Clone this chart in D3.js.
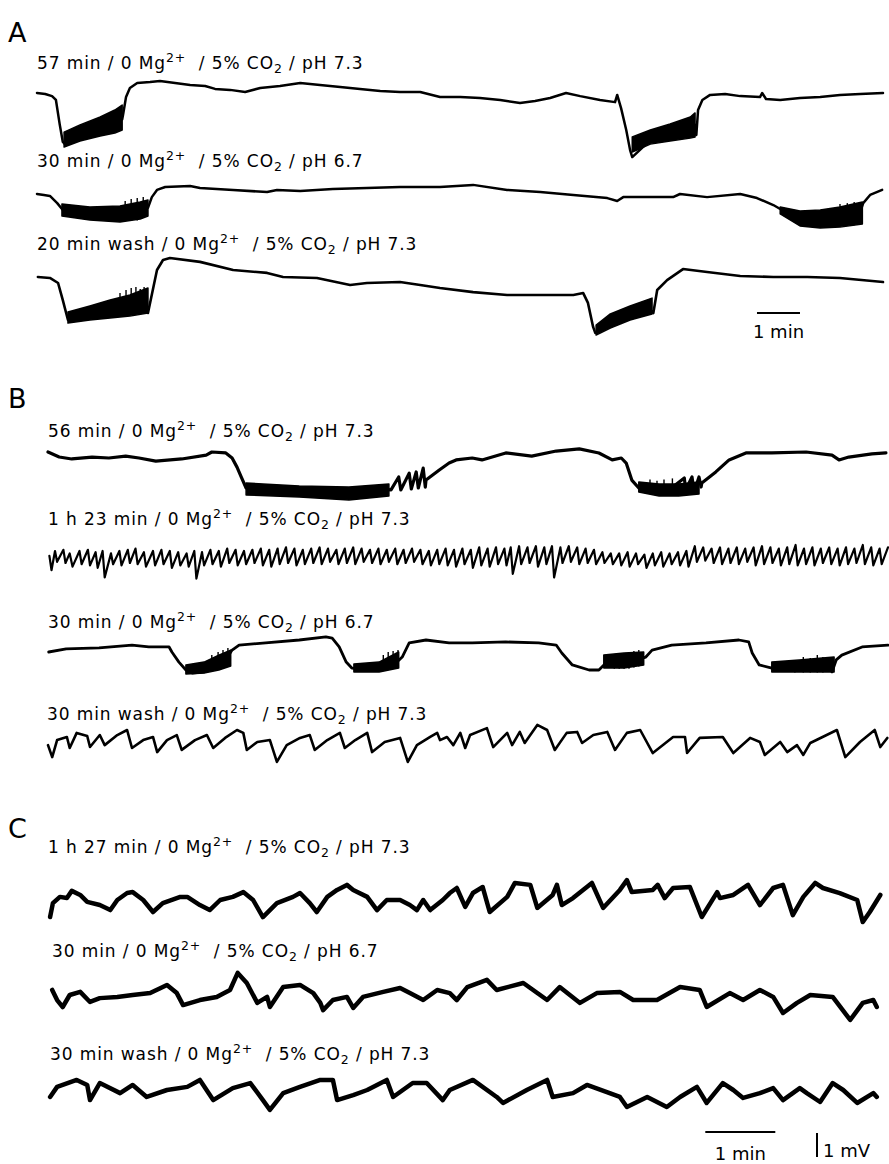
<!DOCTYPE html>
<meta charset="utf-8">
<style>
    body { margin: 0; background: #fff; }
    text { font-family: "DejaVu Sans", sans-serif; fill: #000; white-space: pre; }
    .trace { fill: none; stroke: #000; stroke-linejoin: round; stroke-linecap: round; }
    .burst { fill: #000; stroke: #000; stroke-width: 1.5px; stroke-linejoin: round; }
    .spike { stroke: #000; stroke-width: 1.4px; }
    .bar { stroke: #000; stroke-width: 2px; }
</style>

<svg width="889" height="1164"></svg>

<script src="https://d3js.org/d3.v7.min.js"></script>
<script>
    // time in min, potential in mV (relative to each trace's start)
    var panels = ["A", "B", "C"];
    var timesA = ["57 min", "30 min", "20 min wash"],
        phA = ["7.3", "6.7", "7.3"];
    var timesB = ["56 min", "1 h 23 min", "30 min", "30 min wash"],
        phB = ["7.3", "7.3", "6.7", "7.3"];
    var timesC = ["1 h 27 min", "30 min", "30 min wash"],
        phC = ["7.3", "6.7", "7.3"];

    var a1 = [[0,0],[0.19,-0.04],[0.35,-0.13],[0.44,-0.29],[0.53,-1.33],[0.6,-2.04],[0.67,-2.17],[1.23,-1.6],
        [1.7,-1.3],[1.98,-1.1],[2.0,-0.92],[2.07,-0.17],[2.16,0.21],[2.33,0.42],[2.63,0.46],[2.86,0.5],[3.21,0.42],
        [3.56,0.33],[3.91,0.29],[4.14,0.17],[4.49,0.13],[4.84,0.04],[5.19,0.21],[5.65,0.29],[6.12,0.42],[6.58,0.33],
        [7.05,0.25],[7.51,0.17],[7.98,0.08],[8.44,0.04],[8.91,0.04],[9.37,-0.17],[9.84,-0.17],[10.3,-0.21],
        [10.77,-0.29],[11.23,-0.42],[11.58,-0.33],[11.93,-0.21],[12.3,0],[12.63,-0.13],[13.09,-0.29],[13.44,-0.38],
        [13.49,-0.08],[13.58,-0.63],[13.7,-1.54],[13.79,-2.38],[13.84,-2.67],[14.26,-1.96],[14.72,-1.67],
        [15.19,-1.42],[15.3,-1.33],[15.33,-1.75],[15.37,-0.71],[15.47,-0.29],[15.65,-0.08],[16.0,-0.04],
        [16.35,-0.13],[16.81,-0.17],[16.86,0],[16.95,-0.25],[17.28,-0.29],[17.74,-0.21],[18.21,-0.17],
        [18.67,-0.08],[19.14,-0.04],[19.67,0]];
    var a1Bursts = [
        [[0.63,-1.63,-2.25],[1.0,-1.33,-2.0],[1.47,-1.0,-1.79],[1.81,-0.71,-1.67],[1.98,-0.5,-1.54]],
        [[13.84,-1.83,-2.46],[14.26,-1.54,-2.13],[14.72,-1.29,-2.0],[15.19,-1.0,-1.88],[15.3,-0.83,-1.83]]
    ];
    var a1Spikes = [];

    var a2 = [[0,0],[0.16,-0.04],[0.3,-0.08],[0.47,-0.38],[0.6,-0.67],[1.0,-0.75],[1.7,-0.79],[2.4,-0.67],
        [2.58,-0.58],[2.67,-0.13],[2.79,0.17],[2.98,0.29],[3.56,0.33],[3.79,0.25],[4.56,0.17],[5.35,0.08],
        [5.58,0.17],[6.12,0.13],[6.88,0.21],[7.67,0.25],[8.44,0.29],[9.37,0.29],[10.14,0.38],[10.93,0.17],
        [11.7,0.08],[12.47,-0.04],[13.26,-0.17],[13.49,-0.29],[13.63,-0.13],[14.79,-0.13],[14.95,0],[15.58,-0.13],
        [16.35,0],[16.74,-0.17],[17.12,-0.46],[17.44,-0.79],[17.74,-0.96],[18.28,-1.0],[18.67,-0.92],
        [19.14,-0.75],[19.21,-0.38],[19.37,-0.04],[19.65,0.17]];
    var a2Bursts = [
        [[0.58,-0.42,-0.92],[1.23,-0.54,-1.08],[1.93,-0.5,-1.17],[2.4,-0.33,-1.04],[2.58,-0.25,-0.92]],
        [[17.28,-0.54,-0.83],[17.74,-0.71,-1.33],[18.21,-0.67,-1.42],[18.67,-0.54,-1.38],[19.19,-0.33,-1.25]]
    ];
    var a2Spikes = [[2.05,-1.1,-0.29],[2.19,-1.1,-0.21],[2.33,-1.1,-0.17],[2.47,-1.0,-0.13],[2.56,-0.9,-0.25],
        [18.67,-1.3,-0.42],[18.84,-1.3,-0.38],[19.0,-1.3,-0.33],[19.14,-1.2,-0.38]];

    var a3 = [[0.02,0],[0.3,-0.04],[0.49,-0.25],[0.6,-0.96],[0.72,-1.79],[1.23,-1.5],[1.93,-1.29],[2.51,-1.04],
        [2.58,-1.5],[2.79,0.29],[2.93,0.71],[3.09,0.79],[3.79,0.63],[4.56,0.29],[5.35,0.17],[5.72,0],[6.51,-0.04],
        [7.28,-0.33],[7.67,-0.25],[8.44,-0.21],[8.91,-0.33],[9.37,-0.46],[10.14,-0.63],[10.93,-0.75],[11.7,-0.75],
        [12.47,-0.75],[12.7,-0.67],[12.81,-1.08],[12.93,-2.08],[12.98,-2.33],[13.56,-1.88],[14.26,-1.38],
        [14.33,-1.5],[14.42,-0.54],[14.65,-0.13],[15.02,0.33],[15.58,0.21],[16.35,0.04],[17.12,0],[17.91,0],
        [18.67,-0.04],[19.67,-0.21]];
    var a3Bursts = [
        [[0.72,-1.46,-1.92],[1.23,-1.21,-1.79],[1.7,-0.96,-1.71],[2.16,-0.75,-1.63],[2.58,-0.46,-1.5]],
        [[13.0,-2.0,-2.42],[13.33,-1.54,-2.13],[13.79,-1.21,-1.79],[14.3,-0.88,-1.54]]
    ];
    var a3Spikes = [[1.93,-1.5,-0.67],[2.07,-1.5,-0.54],[2.19,-1.5,-0.46],[2.3,-1.5,-0.42],[2.4,-1.5,-0.5],
        [2.49,-1.5,-0.42],[2.56,-1.5,-0.63]];

    var b1 = [[0,0],[0.16,-0.21],[0.34,-0.29],[0.63,-0.21],[0.87,-0.25],[1.11,-0.17],[1.3,-0.25],[1.54,-0.38],
        [1.91,-0.29],[2.26,-0.13],[2.34,0],[2.54,-0.04],[2.63,-0.25],[2.7,-0.63],[2.76,-1.04],[2.83,-1.5],
        [3.16,-1.67],[3.59,-1.58],[4.01,-1.75],[4.44,-1.71],[4.73,-1.54],[4.9,-1.58],[5.01,-1.04],[5.04,-1.58],
        [5.16,-0.88],[5.19,-1.54],[5.26,-0.83],[5.29,-1.5],[5.36,-0.67],[5.39,-1.46],[5.4,-1.17],[5.59,-0.75],
        [5.73,-0.46],[5.83,-0.33],[6.06,-0.25],[6.2,-0.33],[6.54,-0.04],[6.91,-0.17],[7.26,0.04],[7.59,0.13],
        [7.87,-0.04],[8.06,-0.33],[8.19,-0.25],[8.26,-0.46],[8.34,-1.17],[8.44,-1.5],[8.87,-1.58],[9.09,-1.08],
        [9.11,-1.58],[9.2,-1.04],[9.23,-1.67],[9.3,-1.04],[9.33,-1.46],[9.34,-1.29],[9.54,-0.83],[9.73,-0.33],
        [9.97,-0.04],[10.34,-0.04],[10.83,0],[11.2,-0.13],[11.3,-0.33],[11.44,-0.21],[11.77,-0.08],[11.97,-0.04]];
    var b1Bursts = [
        [[2.83,-1.29,-1.79],[3.59,-1.42,-1.88],[4.3,-1.46,-2.0],[4.87,-1.33,-1.83]],
        [[8.44,-1.25,-1.67],[8.73,-1.33,-1.83],[9.01,-1.33,-1.83],[9.3,-1.25,-1.75]]
    ];
    var b1Spikes = [[8.6,-1.7,-1.15],[8.7,-1.8,-1.2],[8.8,-1.8,-1.15],[8.92,-1.8,-1.1]];

    var b2 = [[0.02,0.05],[0.05,-0.55],[0.1,0.25],[0.13,-0.2],[0.22,0.3],[0.25,-0.25],[0.31,0.15],[0.35,-0.4],
        [0.45,0.25],[0.48,-0.3],[0.57,0.3],[0.6,-0.35],[0.68,0.2],[0.71,-0.45],[0.78,0.25],[0.81,-0.85],
        [0.9,0.15],[0.93,-0.3],[1.02,0.25],[1.05,-0.35],[1.14,0.3],[1.17,-0.25],[1.25,0.35],[1.28,-0.3],
        [1.37,0.2],[1.4,-0.4],[1.5,0.25],[1.53,-0.35],[1.62,0.3],[1.65,-0.3],[1.74,0.25],[1.77,-0.45],
        [1.86,0.2],[1.89,-0.35],[1.98,0.15],[2.01,-0.4],[2.09,0.25],[2.12,-0.9],[2.2,0.2],[2.23,-0.35],
        [2.32,0.3],[2.35,-0.3],[2.44,0.25],[2.47,-0.4],[2.56,0.35],[2.59,-0.25],[2.68,0.3],[2.71,-0.35],
        [2.8,0.25],[2.83,-0.3],[2.92,0.3],[2.95,-0.25],[3.04,0.35],[3.07,-0.35],[3.16,0.3],[3.19,-0.4],
        [3.28,0.35],[3.31,-0.3],[3.4,0.4],[3.43,-0.25],[3.52,0.35],[3.55,-0.35],[3.64,0.3],[3.67,-0.3],
        [3.76,0.35],[3.79,-0.25],[3.88,0.4],[3.91,-0.3],[4.0,0.35],[4.03,-0.2],[4.12,0.3],[4.15,-0.3],
        [4.24,0.35],[4.27,-0.25],[4.36,0.4],[4.39,-0.3],[4.48,0.35],[4.51,-0.2],[4.6,0.3],[4.63,-0.25],
        [4.72,0.35],[4.75,-0.3],[4.84,0.3],[4.87,-0.2],[4.96,0.35],[4.99,-0.3],[5.08,0.3],[5.11,-0.25],
        [5.2,0.35],[5.23,-0.2],[5.32,0.3],[5.35,-0.3],[5.44,0.25],[5.47,-0.35],[5.56,0.3],[5.59,-0.3],
        [5.68,0.35],[5.71,-0.35],[5.8,0.3],[5.83,-0.4],[5.92,0.35],[5.95,-0.3],[6.04,0.3],[6.07,-0.45],
        [6.16,0.4],[6.19,-0.35],[6.28,0.35],[6.31,-0.4],[6.4,0.4],[6.43,-0.3],[6.52,0.35],[6.55,-0.35],
        [6.61,0.4],[6.64,-0.7],[6.73,0.45],[6.76,-0.3],[6.85,0.4],[6.88,-0.25],[6.97,0.45],[7.0,-0.4],
        [7.09,0.4],[7.12,-0.3],[7.2,0.45],[7.23,-0.85],[7.32,0.4],[7.35,-0.25],[7.44,0.45],[7.47,-0.2],
        [7.56,0.4],[7.59,-0.3],[7.68,0.35],[7.71,-0.25],[7.8,0.3],[7.83,-0.3],[7.92,0.2],[7.95,-0.25],
        [8.04,0.15],[8.07,-0.3],[8.16,0.15],[8.19,-0.35],[8.28,0.2],[8.31,-0.4],[8.4,0.15],[8.43,-0.3],
        [8.52,0.1],[8.55,-0.45],[8.64,0.15],[8.67,-0.35],[8.76,0.2],[8.79,-0.4],[8.88,0.15],[8.91,-0.3],
        [9.0,0.2],[9.03,-0.35],[9.12,0.25],[9.15,-0.4],[9.24,0.45],[9.27,-0.2],[9.36,0.4],[9.39,-0.15],
        [9.48,0.35],[9.51,-0.25],[9.6,0.4],[9.63,-0.3],[9.72,0.35],[9.75,-0.25],[9.84,0.4],[9.87,-0.3],
        [9.96,0.35],[9.99,-0.2],[10.08,0.4],[10.11,-0.35],[10.2,0.45],[10.23,-0.3],[10.32,0.4],[10.35,-0.25],
        [10.44,0.35],[10.47,-0.35],[10.56,0.4],[10.59,-0.3],[10.68,0.5],[10.71,-0.35],[10.8,0.35],[10.83,-0.3],
        [10.92,0.4],[10.95,-0.35],[11.04,0.35],[11.07,-0.25],[11.16,0.4],[11.19,-0.3],[11.28,0.35],[11.31,-0.35],
        [11.4,0.4],[11.43,-0.3],[11.52,0.35],[11.55,-0.25],[11.64,0.5],[11.67,-0.3],[11.76,0.4],[11.79,-0.35],
        [11.88,0.35],[11.91,-0.3],[12.0,0.4]];

    var b3 = [[0.01,0],[0.26,0.13],[0.73,0.17],[1.2,0.29],[1.44,0.21],[1.73,0.21],[1.77,0],[1.87,-0.42],
        [1.97,-0.75],[2.06,-0.88],[2.23,-0.83],[2.37,-0.67],[2.51,-0.46],[2.63,0.08],[2.73,0.29],[3.11,0.38],
        [3.59,0.5],[3.97,0.63],[4.06,0.58],[4.16,0.21],[4.26,-0.42],[4.34,-0.67],[4.66,-0.75],[4.94,-0.54],
        [5.06,-0.21],[5.16,0.38],[5.4,0.5],[5.73,0.38],[6.06,0.38],[6.54,0.42],[7.01,0.38],[7.26,0.29],
        [7.34,-0.04],[7.49,-0.54],[7.73,-0.75],[7.87,-0.75],[7.97,-0.46],[8.3,-0.42],[8.54,-0.21],[8.63,0.08],
        [8.91,0.29],[9.4,0.38],[9.87,0.5],[10.01,0.42],[10.06,-0.04],[10.16,-0.54],[10.34,-0.67],[10.73,-0.67],
        [11.16,-0.54],[11.2,-0.83],[11.26,-0.33],[11.34,-0.13],[11.63,0.21],[12.0,0.29]];
    var b3Bursts = [
        [[1.97,-0.54,-0.92],[2.23,-0.42,-0.88],[2.44,-0.13,-0.75],[2.61,0.08,-0.58]],
        [[4.37,-0.5,-0.83],[4.73,-0.42,-0.83],[5.01,0,-0.67]],
        [[7.94,-0.13,-0.67],[8.23,-0.04,-0.67],[8.51,0,-0.54]],
        [[10.34,-0.42,-0.83],[10.73,-0.33,-0.83],[11.23,-0.21,-0.83]]
    ];
    var b3Spikes = [[2.34,-0.75,-0.13],[2.43,-0.75,0],[2.5,-0.7,0.08],[2.57,-0.6,0.17],
        [4.79,-0.75,-0.13],[4.86,-0.75,0],[4.93,-0.7,0.04],[5.0,-0.65,0.08],
        [8.09,-0.7,-0.17],[8.16,-0.7,-0.08],[8.23,-0.7,-0.04],[8.3,-0.7,0],[8.37,-0.65,0.04],[8.44,-0.6,0.08],
        [10.67,-0.85,-0.33],[10.79,-0.85,-0.21],[10.89,-0.85,-0.25],[10.99,-0.85,-0.13],[11.07,-0.85,-0.21]];

    var b4 = [[0,-0.13],[0.06,-0.63],[0.13,0.08],[0.27,0.21],[0.31,-0.25],[0.41,0.38],[0.56,0.25],[0.6,-0.21],
        [0.74,0.29],[0.81,-0.13],[0.99,0.29],[1.13,0.5],[1.2,-0.25],[1.36,0.08],[1.5,0.21],[1.56,-0.42],
        [1.7,0.08],[1.84,0.29],[1.91,-0.33],[2.1,0.08],[2.27,0.29],[2.36,-0.25],[2.53,0.17],[2.7,0.5],
        [2.79,0.38],[2.84,-0.33],[2.99,0],[3.17,0.08],[3.27,-0.83],[3.41,-0.13],[3.6,0.17],[3.74,0.29],
        [3.81,-0.33],[3.99,0.08],[4.17,0.38],[4.24,-0.25],[4.39,0.08],[4.56,0.38],[4.63,-0.42],[4.81,0],
        [5.03,0.17],[5.14,-0.83],[5.27,-0.13],[5.46,0.21],[5.56,0.38],[5.6,0.08],[5.7,0.21],[5.79,-0.13],
        [5.89,0.38],[5.96,-0.25],[6.03,0.29],[6.27,0.58],[6.36,-0.21],[6.56,0.38],[6.63,-0.13],[6.74,0.42],
        [6.81,-0.04],[6.99,0.71],[7.13,0.5],[7.24,-0.33],[7.41,0.38],[7.56,0.42],[7.63,-0.04],[7.79,0.29],
        [7.99,0.42],[8.1,-0.33],[8.27,0.38],[8.46,0.5],[8.64,-0.46],[8.93,0.21],[9.1,0.21],[9.13,-0.46],
        [9.31,0.17],[9.64,0.21],[9.79,-0.46],[10.03,0.17],[10.17,0],[10.24,-0.54],[10.46,0],[10.56,-0.42],
        [10.7,-0.13],[10.79,-0.54],[10.89,-0.04],[11.27,0.5],[11.39,-0.63],[11.6,0],[11.81,0.5],[11.89,-0.21],
        [11.99,0.17]];

    var c1 = [[0.03,-0.71],[0.07,-0.13],[0.17,0.13],[0.27,0.08],[0.34,0.38],[0.46,0.21],[0.56,-0.08],
        [0.74,-0.21],[0.89,-0.42],[0.99,0],[1.13,0.29],[1.21,0.33],[1.36,0],[1.5,-0.5],[1.64,-0.13],[1.89,0.13],
        [1.99,0.13],[2.17,-0.21],[2.31,-0.42],[2.46,0],[2.64,0.13],[2.79,0.33],[2.93,0],[3.07,-0.71],[3.27,-0.13],
        [3.5,0.13],[3.6,0.29],[3.74,-0.13],[3.84,-0.5],[3.99,0.13],[4.13,0.42],[4.27,0.63],[4.36,0.42],
        [4.56,0.13],[4.7,-0.42],[4.84,0],[5.03,0],[5.17,-0.21],[5.27,-0.42],[5.36,0],[5.46,-0.42],[5.64,0],
        [5.74,0.29],[5.84,0.5],[5.96,-0.29],[6.07,0.29],[6.21,0.54],[6.31,-0.5],[6.56,0.13],[6.67,0.71],
        [6.89,0.63],[6.99,-0.33],[7.21,0.21],[7.27,0.63],[7.34,-0.21],[7.5,0.08],[7.77,0.71],[7.93,-0.33],
        [8.17,0.42],[8.27,0.83],[8.34,0.33],[8.64,0.42],[8.71,0.63],[8.81,0.08],[8.93,0.5],[9.17,0.54],
        [9.34,-0.71],[9.56,0.33],[9.6,0.08],[9.79,0.21],[10.0,0.63],[10.17,-0.21],[10.36,0.5],[10.5,0.63],
        [10.64,-0.63],[10.79,0.13],[10.96,0.71],[11.07,0.5],[11.31,0.29],[11.56,0],[11.64,-0.92],[11.74,-0.5],
        [11.89,0.21]];

    var c2 = [[0.06,0.21],[0.13,-0.21],[0.21,-0.5],[0.31,0],[0.46,0.13],[0.6,-0.29],[0.74,-0.13],[0.99,-0.08],
        [1.21,0],[1.46,0.08],[1.7,0.42],[1.84,0.08],[1.93,-0.42],[2.17,-0.21],[2.41,-0.08],[2.6,0.21],[2.71,0.92],
        [2.84,0.5],[2.99,-0.33],[3.13,-0.08],[3.17,-0.5],[3.36,0.33],[3.6,0.42],[3.79,0.08],[3.89,-0.33],
        [3.93,-0.63],[4.07,-0.21],[4.27,-0.08],[4.36,-0.54],[4.5,-0.08],[4.79,0.13],[5.03,0.29],[5.17,0.08],
        [5.36,-0.21],[5.56,0.21],[5.74,0.08],[5.84,-0.21],[5.99,0.33],[6.27,0.63],[6.41,0.21],[6.79,0.5],
        [7.13,-0.21],[7.31,0.33],[7.6,-0.33],[7.84,0.08],[8.17,0.13],[8.36,-0.21],[8.7,-0.21],[9.03,0.33],
        [9.31,0.21],[9.41,-0.5],[9.74,0.08],[9.93,-0.21],[10.17,0.21],[10.36,-0.08],[10.5,-0.75],[10.7,-0.33],
        [10.89,0],[11.21,-0.08],[11.46,-1.04],[11.64,-0.33],[11.79,-0.21],[11.84,-0.5]];

    var c3 = [[0.03,-0.29],[0.13,0.13],[0.41,0.42],[0.56,0.21],[0.6,-0.42],[0.74,0.29],[1.03,-0.13],[1.21,0.21],
        [1.41,-0.29],[1.7,0],[1.99,0.13],[2.17,0.42],[2.36,-0.42],[2.64,0.08],[2.89,0.29],[3.07,-0.42],
        [3.17,-0.83],[3.36,-0.13],[3.6,0.13],[3.89,0.42],[4.07,0.42],[4.13,-0.42],[4.36,-0.21],[4.56,0],
        [4.84,0.42],[4.93,-0.29],[5.21,0.29],[5.41,0.29],[5.64,-0.42],[5.74,0],[6.07,0.42],[6.41,-0.29],
        [6.5,-0.54],[6.84,0],[7.13,0.42],[7.21,-0.29],[7.5,-0.13],[7.7,0.21],[8.17,-0.29],[8.27,-0.71],
        [8.56,-0.29],[8.84,-0.71],[9.03,-0.29],[9.27,0.13],[9.41,-0.54],[9.64,0.29],[9.79,0],[9.93,-0.33],
        [10.17,-0.13],[10.36,0.08],[10.5,-0.42],[10.74,0.08],[10.84,-0.13],[11.03,-0.5],[11.21,0.29],[11.36,0],
        [11.56,-0.54],[11.79,-0.13],[11.84,-0.29]];

    var svg = d3.select("svg");
    svg.append("rect").attr("width", 889).attr("height", 1164).attr("fill", "#fff");

    var xA = d3.scaleLinear().domain([0, 19.67]).range([37, 883]),
        xBC = d3.scaleLinear().domain([0, 12]).range([48, 888]),
        pxPerMv = 24;

    var rows = [
        {x: xA, time: timesA[0], ph: phA[0], data: a1, bursts: a1Bursts, spikes: a1Spikes, y0: 93, lx: 37, ly: 69, w: 2.5},
        {x: xA, time: timesA[1], ph: phA[1], data: a2, bursts: a2Bursts, spikes: a2Spikes, y0: 194, lx: 37, ly: 167, w: 2.5},
        {x: xA, time: timesA[2], ph: phA[2], data: a3, bursts: a3Bursts, spikes: a3Spikes, y0: 277, lx: 37, ly: 250, w: 2.6},
        {x: xBC, time: timesB[0], ph: phB[0], data: b1, bursts: b1Bursts, spikes: b1Spikes, y0: 452, lx: 48, ly: 437, w: 3.2},
        {x: xBC, time: timesB[1], ph: phB[1], data: b2, bursts: [], spikes: [], y0: 557, lx: 48, ly: 525, w: 2.2},
        {x: xBC, time: timesB[2], ph: phB[2], data: b3, bursts: b3Bursts, spikes: b3Spikes, y0: 652, lx: 48, ly: 628, w: 2.8},
        {x: xBC, time: timesB[3], ph: phB[3], data: b4, bursts: [], spikes: [], y0: 742, lx: 47, ly: 720, w: 2.6},
        {x: xBC, time: timesC[0], ph: phC[0], data: c1, bursts: [], spikes: [], y0: 900, lx: 48, ly: 853, w: 4.5},
        {x: xBC, time: timesC[1], ph: phC[1], data: c2, bursts: [], spikes: [], y0: 995, lx: 52, ly: 957, w: 4.5},
        {x: xBC, time: timesC[2], ph: phC[2], data: c3, bursts: [], spikes: [], y0: 1090, lx: 50, ly: 1060, w: 4.5}
    ];

    rows.forEach(function (r) {
        var y = d3.scaleLinear().domain([0, 1]).range([r.y0, r.y0 - pxPerMv]),
            g = svg.append("g");

        var t = g.append("text")
            .attr("x", r.lx)
            .attr("y", r.ly)
            .attr("font-size", 17)
            .attr("letter-spacing", 0.9);
        t.append("tspan").text(r.time + " / 0 Mg");
        t.append("tspan").attr("dy", -7).attr("font-size", 12.5).text("2+");
        t.append("tspan").attr("dy", 7).text("  / 5% CO");
        t.append("tspan").attr("dy", 4).attr("font-size", 12.5).text("2");
        t.append("tspan").attr("dy", -4).text(" / pH " + r.ph);

        g.selectAll("path.burst")
            .data(r.bursts)
            .enter()
            .append("path")
            .attr("class", "burst")
            .attr("d", d3.area()
                .x(function (d) { return r.x(d[0]); })
                .y0(function (d) { return y(d[2]); })
                .y1(function (d) { return y(d[1]); }));

        g.selectAll("line.spike")
            .data(r.spikes)
            .enter()
            .append("line")
            .attr("class", "spike")
            .attr("x1", function (d) { return r.x(d[0]); })
            .attr("x2", function (d) { return r.x(d[0]); })
            .attr("y1", function (d) { return y(d[1]); })
            .attr("y2", function (d) { return y(d[2]); });

        g.append("path")
            .attr("class", "trace")
            .attr("stroke-width", r.w)
            .attr("d", d3.line()
                .x(function (d) { return r.x(d[0]); })
                .y(function (d) { return y(d[1]); })(r.data));
    });

    // panel letters
    svg.selectAll("text.panel")
        .data(panels)
        .enter()
        .append("text")
        .attr("class", "panel")
        .attr("x", 8)
        .attr("y", function (d, i) { return [42, 408, 838][i]; })
        .attr("font-size", 27)
        .text(function (d) { return d; });

    // scale bars
    svg.append("line").attr("class", "bar")
        .attr("x1", xA(16.74)).attr("x2", xA(17.74)).attr("y1", 313).attr("y2", 313);
    svg.append("text").attr("x", xA(17.24)).attr("y", 338).attr("font-size", 18)
        .attr("text-anchor", "middle").text("1 min");

    svg.append("line").attr("class", "bar")
        .attr("x1", xBC(9.39)).attr("x2", xBC(10.39)).attr("y1", 1132).attr("y2", 1132);
    svg.append("text").attr("x", xBC(9.89)).attr("y", 1160).attr("font-size", 18)
        .attr("text-anchor", "middle").text("1 min");
    svg.append("line").attr("class", "bar")
        .attr("x1", 817).attr("x2", 817).attr("y1", 1157).attr("y2", 1157 - pxPerMv);
    svg.append("text").attr("x", 823).attr("y", 1157).attr("font-size", 18).text("1 mV");
</script>
